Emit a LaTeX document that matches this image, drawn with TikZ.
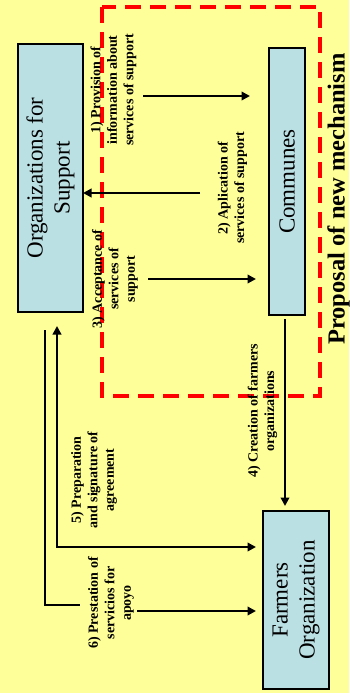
\documentclass[tikz,border=0pt]{standalone}
\usepackage{fontspec}
\setmainfont{Liberation Serif}
\usetikzlibrary{arrows.meta,calc}
\definecolor{bgyellow}{RGB}{255,255,153}
\definecolor{boxblue}{RGB}{187,224,228}
\definecolor{dashred}{RGB}{255,0,0}
\begin{document}
\begin{tikzpicture}[x=1pt,y=-1pt,
  box/.style={draw=black, line width=1.8pt, fill=boxblue, rotate=90, inner sep=0pt, outer sep=0pt, align=center, font=\fontsize{23}{27}\selectfont},
  lab/.style={rotate=90, align=center, inner sep=0pt, font=\bfseries\fontsize{14}{16.5}\selectfont},
  conn/.style={line width=2.8pt, -{Triangle[length=8.5pt,width=8.5pt]}},
  dconn/.style={line width=2.8pt, {Triangle[length=8.5pt,width=8.5pt]}-{Triangle[length=8.5pt,width=8.5pt]}},
  plainline/.style={line width=2.8pt},
  frame/.style={draw=dashred, line width=3.6pt, dash pattern=on 16pt off 9pt}]
\fill[bgyellow] (0,0) rectangle (349,693);
\useasboundingbox (0,0) rectangle (349,693);
% dashed frame
\draw[frame] (102,7) rectangle (320,396);
\node[rotate=90, anchor=base, inner sep=0pt, font=\bfseries\fontsize{24.5}{28}\selectfont] (title) at (344.5,199) {Proposal of new mechanism};
% boxes
\node[box, minimum width=268pt, minimum height=65pt] (org) at (50.5,178) {Organizations for\\Support};
\node[box, minimum width=267pt, minimum height=36pt] (comm) at (287,181.5) {Communes};
\node[box, minimum width=178pt, minimum height=66pt] (farm) at (296,600) {Farmers\\Organization};
% labels
\node[lab] (l1) at (113.5,90) {1) Provision of\\information about\\services of support};
\node[lab] (l2) at (232.5,188) {2) Aplication of\\services of support};
\node[lab] (l3) at (115,279) {3) Acceptance of\\services of\\support};
\node[lab] (l4) at (262.5,411) {4) Creation of farmers\\organizations};
\node[lab] (l5) at (94,480) {5) Preparation\\and signature of\\agreement};
\node[lab] (l6) at (111,603) {6) Prestation of\\servicios for\\apoyo};
% connector end points
\coordinate (a1s) at (143,96);
\coordinate (a1e) at (250,96);
\coordinate (a2s) at (200,193);
\coordinate (a3s) at (148,279);
\coordinate (a3e) at (256,279);
\coordinate (a4s) at (285,319);
\coordinate (a4e) at (285,506);
\coordinate (a5s) at (57,326);
\coordinate (a5m) at (57,547);
\coordinate (a5e) at (256,547);
\coordinate (a6s) at (45,330);
\coordinate (a6m) at (45,605);
\coordinate (a6e) at (80,605);
\coordinate (a7s) at (137,611);
\coordinate (a7e) at (256,611);
% connectors
\draw[conn] (a1s) -- (a1e);
\draw[conn] (a2s) -- (a2s -| org.south);
\draw[conn] (a3s) -- (a3e);
\draw[conn] (a4s) -- (a4e);
\draw[dconn] (a5s) -- (a5m) -- (a5e);
\draw[plainline] (a6s) -- (a6m) -- (a6e);
\draw[conn] (a7s) -- (a7e);
\end{tikzpicture}
\end{document}
